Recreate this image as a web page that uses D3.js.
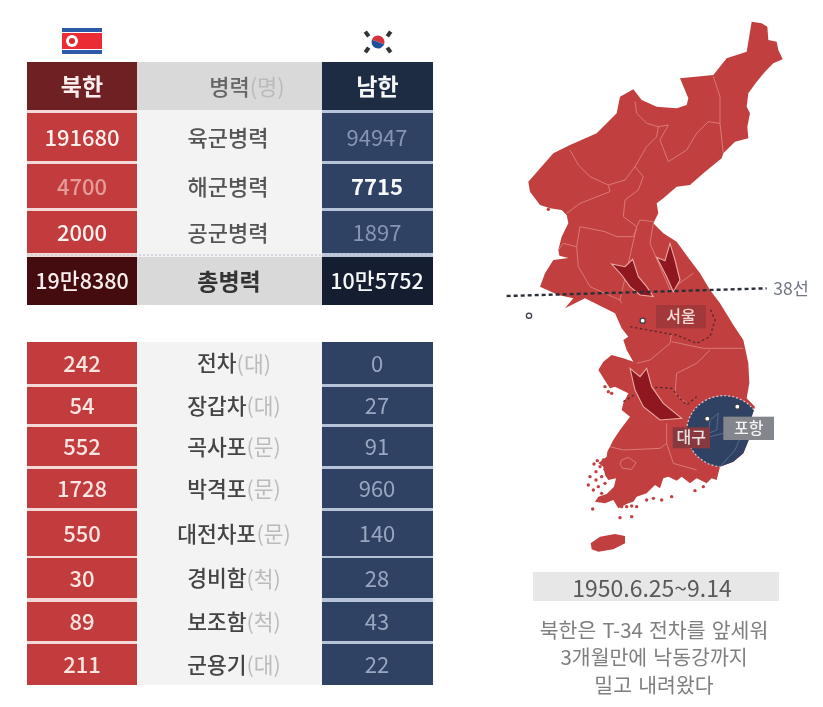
<!DOCTYPE html>
<html>
<head>
<meta charset="utf-8">
<script src="https://d3js.org/d3.v7.min.js"></script>
<style>
  html, body { margin: 0; background: #fff; }
  svg { display: block; font-family: "Noto Sans CJK KR", "Noto Sans", sans-serif; filter: blur(0.45px); }
</style>
</head>
<body>
<script>
// Troops table
var troopNames = ["육군병력", "해군병력", "공군병력"];
var troopNorth = ["191680", "4700", "2000"];
var troopSouth = ["94947", "7715", "1897"];
var totalName = "총병력";
var totalNorth = "19만8380";
var totalSouth = "10만5752";

// Equipment table
var gearNames = ["전차", "장갑차", "곡사포", "박격포", "대전차포", "경비함", "보조함", "군용기"];
var gearUnits = ["(대)", "(대)", "(문)", "(문)", "(문)", "(척)", "(척)", "(대)"];
var gearNorth = [242, 54, 552, 1728, 550, 30, 89, 211];
var gearSouth = [0, 27, 91, 960, 140, 28, 43, 22];

// Map, in map units
var mainland = [[785,35],[815,40],[832,50],[835,90],[860,95],[865,120],[878,148],[850,160],[825,185],[800,215],[775,250],[770,290],[780,310],[772,350],[775,385],[735,395],[700,430],[695,445],[640,490],[600,525],[560,530],[520,565],[500,580],[505,610],[490,640],[520,670],[560,695],[600,750],[630,790],[660,840],[690,880],[730,945],[760,990],[775,1060],[778,1120],[770,1165],[795,1190],[785,1220],[780,1280],[760,1330],[730,1355],[690,1370],[680,1410],[665,1405],[650,1420],[620,1405],[600,1420],[575,1400],[560,1412],[535,1400],[520,1405],[510,1435],[495,1425],[470,1450],[440,1460],[430,1475],[415,1480],[385,1495],[370,1470],[345,1480],[315,1475],[325,1460],[350,1452],[372,1430],[378,1405],[355,1410],[345,1395],[340,1370],[325,1360],[350,1340],[352,1325],[370,1290],[390,1260],[420,1220],[395,1200],[400,1180],[415,1150],[375,1130],[360,1135],[350,1120],[325,1080],[340,1055],[365,1035],[400,1045],[430,1055],[410,1020],[400,990],[415,980],[395,955],[375,910],[345,895],[285,865],[255,880],[225,895],[250,865],[205,855],[150,830],[165,790],[190,750],[235,744],[208,737],[205,720],[215,680],[235,640],[230,615],[215,600],[180,595],[150,585],[120,545],[115,515],[190,430],[240,405],[320,370],[380,310],[390,260],[430,238],[455,270],[500,290],[560,295],[590,285],[595,265],[570,205],[670,195],[710,145],[770,125]];
var jeju = [[302,1600],[330,1580],[375,1572],[405,1578],[405,1600],[370,1618],[325,1625],[305,1618]];
var islands = [[175,598],[312,1362],[322,1352],[330,1370],[340,1350],[345,1378],[318,1385],[300,1400],[318,1410],[335,1400],[295,1425],[310,1440],[325,1430],[345,1420],[362,1400],[335,1450],[308,1497],[390,1523],[425,1520],[395,1490],[410,1490],[425,1488],[440,1490],[470,1470],[490,1465],[515,1470],[545,1460],[615,1442],[640,1430],[670,1375],[345,1130],[355,1145],[365,1150]];
var borders = [
  [[435,275],[440,310],[470,340],[505,350],[500,380],[470,410],[435,470],[405,510],[355,525],[300,500],[265,465],[240,420]],
  [[355,525],[360,545],[270,580],[230,610]],
  [[435,470],[460,500],[445,540],[405,570],[400,620],[440,650],[450,630],[490,635]],
  [[670,200],[690,260],[690,340],[655,335],[620,370],[590,420],[535,455],[510,390],[535,345],[505,350]],
  [[690,340],[700,430]],
  [[440,655],[430,680],[380,680],[345,665],[270,650],[260,710],[220,700],[205,720]],
  [[260,710],[265,770],[300,830],[390,870],[395,880]],
  [[390,870],[440,650]],
  [[490,640],[480,700],[540,840],[610,790]],
  [[545,970],[540,1000],[480,1050],[440,1060]],
  [[545,995],[640,1015],[760,1015]],
  [[660,1020],[620,1060],[560,1090],[555,1150],[590,1180]],
  [[530,1240],[530,1300],[550,1360],[620,1380]],
  [[360,1310],[400,1320],[510,1315],[530,1300]],
  [[395,1350],[415,1342],[438,1358],[425,1378],[398,1375],[390,1362],[395,1350]]
];
var arrows = [
  [[365,762],[405,770],[428,748],[445,800],[470,830],[490,860],[450,855],[420,830],[395,795]],
  [[500,742],[525,752],[540,700],[555,750],[570,810],[550,845],[530,800]],
  [[420,1075],[450,1100],[470,1075],[485,1130],[520,1180],[575,1225],[510,1230],[460,1190],[435,1140]]
];
var frontLines = [
  [[420,950],[500,965],[560,975],[620,1000],[660,980],[675,930],[660,895]],
  [[400,1175],[440,1150],[500,1132],[545,1135],[570,1165],[590,1185],[620,1160]]
];
var line38 = [[50,858],[830,835]];
var cities = [[458,932],[652,1226],[742,1190],[117,917]];
var cityLabels = [
  { name: "서울", box: [498,885,648,955], fill: "#a3383a", color: "#f6dcd6" },
  { name: "대구", box: [548,1252,660,1315], fill: "#87393f", color: "#e8e2e2" },
  { name: "포항", box: [700,1220,852,1290], fill: "#83868d", color: "#f2f2f2" }
];
var noteLines = ["북한은 T-34 전차를 앞세워", "3개월만에 낙동강까지", "밀고 내려왔다"];
var dateText = "1950.6.25~9.14";

var w = 823;
var h = 707;

// Row layout of both tables
var troopTops = [113, 164, 211];
var troopHeights = [48, 44, 42];
var gearTops = [342, 387, 427, 469, 511, 558, 602, 644];
var gearHeights = [42, 37, 39, 39, 45, 40, 39, 41];

var col = {
  north: { x: 27, w: 110 },
  mid: { x: 137, w: 185 },
  south: { x: 322, w: 111 }
};
var midText = 229;

var svg = d3.select("body").append("svg")
    .attr("width", w)
    .attr("height", h);

// Draws one table cell
function cell(c, y, height, fill) {
  svg.append("rect")
      .attr("x", c.x)
      .attr("y", y)
      .attr("width", c.w)
      .attr("height", height)
      .attr("fill", fill);
}

function label(x, y, text, size, color, weight) {
  return svg.append("text")
      .attr("x", x)
      .attr("y", y - 1.5)
      .attr("text-anchor", "middle")
      .attr("dominant-baseline", "central")
      .attr("font-size", size)
      .attr("font-weight", weight || 500)
      .attr("fill", color)
      .text(text);
}

// Pale column backgrounds show through as row dividers
cell(col.north, 110, 147, "#f3d9d7");
cell(col.mid, 110, 147, "#f3f3f3");
cell(col.south, 110, 147, "#b7c3d8");
cell(col.north, 342, 343, "#f3d9d7");
cell(col.mid, 342, 343, "#f3f3f3");
cell(col.south, 342, 343, "#b7c3d8");

// Header row
cell(col.north, 62, 48, "#6f2022");
cell(col.mid, 62, 48, "#d9d9d9");
cell(col.south, 62, 48, "#1d2c43");
label(col.north.x + col.north.w / 2, 86, "북한", 23, "#fbeeee", 700);
label(col.south.x + col.south.w / 2, 86, "남한", 23, "#f4f6f8", 700);
var head = label(247, 86, "병력", 22, "#666");
head.append("tspan").attr("fill", "#bbb").attr("font-weight", 400).text("(명)");

// Troop rows, dim values are the ones the source faded out
var troopY = d3.scaleOrdinal().domain(troopNames).range(troopTops);
var troopH = d3.scaleOrdinal().domain(troopNames).range(troopHeights);
var northDim = ["4700"];
var southDim = ["94947", "1897"];

troopNames.forEach(function(name, i) {
  var y = troopY(name), rh = troopH(name), cy = y + rh / 2;
  cell(col.north, y, rh, "#c23c3e");
  cell(col.south, y, rh, "#2f4264");
  label(col.north.x + 55, cy, troopNorth[i], 22, northDim.indexOf(troopNorth[i]) >= 0 ? "#e39c97" : "#fdf0ee", 500);
  label(midText - 1, cy, name, 22, "#555");
  var dim = southDim.indexOf(troopSouth[i]) >= 0;
  label(col.south.x + 55, cy, troopSouth[i], 22, dim ? "#8595b2" : "#f6f8fa", dim ? 400 : 700);
});

// Total row
cell(col.north, 257, 48, "#440c0f");
cell(col.mid, 257, 48, "#d9d9d9");
cell(col.south, 257, 48, "#141e30");
label(col.north.x + 55, 281, totalNorth, 21.5, "#f9eded", 500);
label(midText, 281, totalName, 23, "#333", 700);
label(col.south.x + 55, 281, totalSouth, 21.5, "#f4f6f8", 500);
svg.append("line")
    .attr("x1", 27).attr("x2", 433).attr("y1", 255).attr("y2", 255)
    .attr("stroke", "#c9cdd6")
    .attr("stroke-width", 1.5)
    .attr("stroke-dasharray", "2 2");

// Equipment rows
var gearY = d3.scaleOrdinal().domain(gearNames).range(gearTops);
var gearH = d3.scaleOrdinal().domain(gearNames).range(gearHeights);

gearNames.forEach(function(name, i) {
  var y = gearY(name), rh = gearH(name), cy = y + rh / 2;
  cell(col.north, y, rh, "#c23c3e");
  cell(col.south, y, rh, "#2f4264");
  label(col.north.x + 55, cy, gearNorth[i], 22, "#fbe6e2", 500);
  var t = label(midText + 5, cy, name, 21.5, "#444");
  t.append("tspan").attr("fill", "#bbb").attr("font-weight", 400).text(gearUnits[i]);
  label(col.south.x + 55, cy, gearSouth[i], 22, "#98a6c0", 400);
});

// North Korean flag
var nk = svg.append("g");
nk.append("rect").attr("x", 62).attr("y", 28).attr("width", 40).attr("height", 26).attr("fill", "#2c5aa8");
nk.append("rect").attr("x", 62).attr("y", 32).attr("width", 40).attr("height", 18).attr("fill", "#fff");
nk.append("rect").attr("x", 62).attr("y", 33).attr("width", 40).attr("height", 16).attr("fill", "#ec2c34");
nk.append("circle").attr("cx", 72).attr("cy", 41).attr("r", 6).attr("fill", "#fff");
nk.append("circle").attr("cx", 72).attr("cy", 41).attr("r", 3).attr("fill", "#d82a30");

// South Korean flag
var sk = svg.append("g");
sk.append("rect").attr("x", 362).attr("y", 29).attr("width", 35).attr("height", 26).attr("fill", "#fff");
var taeguk = d3.arc().innerRadius(0).outerRadius(6.5);
sk.append("path").attr("transform", "translate(378,42) rotate(20)")
    .attr("d", taeguk({ startAngle: -Math.PI / 2, endAngle: Math.PI / 2 })).attr("fill", "#d3333d");
sk.append("path").attr("transform", "translate(378,42) rotate(20)")
    .attr("d", taeguk({ startAngle: Math.PI / 2, endAngle: 3 * Math.PI / 2 })).attr("fill", "#1f4f9c");
[[367,34,-35],[389,34,35],[367,50,35],[389,50,-35]].forEach(function(b) {
  sk.append("rect")
      .attr("x", b[0] - 3).attr("y", b[1] - 2).attr("width", 6).attr("height", 4)
      .attr("transform", "rotate(" + (b[2] + 90) + "," + b[0] + "," + b[1] + ")")
      .attr("fill", "#333");
});

// Map
var mapX = d3.scaleLinear().domain([0, 990]).range([490, 820]);
var mapY = d3.scaleLinear().domain([0, 1680]).range([10, 570]);
var shapePath = d3.line().x(function(d) { return mapX(d[0]); }).y(function(d) { return mapY(d[1]); }).curve(d3.curveLinearClosed);
var linePath = d3.line().x(function(d) { return mapX(d[0]); }).y(function(d) { return mapY(d[1]); });

svg.append("clipPath").attr("id", "land")
  .append("path").attr("d", shapePath(mainland));

svg.append("path").attr("d", shapePath(mainland)).attr("fill", "#c23f40");
svg.append("path").attr("d", shapePath(jeju)).attr("fill", "#c23f40");
svg.selectAll(".island")
  .data(islands)
  .enter().append("circle")
    .attr("class", "island")
    .attr("cx", function(d) { return mapX(d[0]); })
    .attr("cy", function(d) { return mapY(d[1]); })
    .attr("r", 1.7)
    .attr("fill", "#c23f40");

svg.selectAll(".border")
  .data(borders)
  .enter().append("path")
    .attr("class", "border")
    .attr("d", linePath)
    .attr("fill", "none")
    .attr("stroke", "#dc7f79")
    .attr("stroke-width", 0.9);

// Pusan perimeter
var perimeter = svg.append("g").attr("clip-path", "url(#land)");
perimeter.append("ellipse")
    .attr("cx", mapX(702)).attr("cy", mapY(1264))
    .attr("rx", mapX(112) - mapX(0)).attr("ry", mapX(107) - mapX(0))
    .attr("fill", "#2f4264")
    .attr("stroke", "#c9d0de")
    .attr("stroke-width", 1.2)
    .attr("stroke-dasharray", "2 2");
perimeter.append("path")
    .attr("d", linePath([[620,1290],[700,1270],[740,1260],[780,1262]]))
    .attr("fill", "none").attr("stroke", "#566a8c");
perimeter.append("path")
    .attr("d", linePath([[660,1230],[685,1210],[680,1260],[655,1270],[660,1230]]))
    .attr("fill", "none").attr("stroke", "#566a8c");
perimeter.append("path")
    .attr("d", linePath([[690,1370],[735,1320],[750,1285]]))
    .attr("fill", "none").attr("stroke", "#566a8c");

// Front lines
svg.selectAll(".front")
  .data(frontLines)
  .enter().append("path")
    .attr("class", "front")
    .attr("d", linePath)
    .attr("fill", "none")
    .attr("stroke", "#5c2a2c")
    .attr("stroke-width", 1.4)
    .attr("stroke-dasharray", "2.5 2.5");

// Arrows
svg.selectAll(".arrow")
  .data(arrows)
  .enter().append("path")
    .attr("class", "arrow")
    .attr("d", shapePath)
    .attr("fill", "#8f1820")
    .attr("stroke", "#e9a9a0")
    .attr("stroke-width", 1.1);

// 38th parallel
svg.append("path")
    .attr("d", linePath(line38))
    .attr("stroke", "#2b3038")
    .attr("stroke-width", 2.4)
    .attr("stroke-dasharray", "4 3");
label(791, 289, "38선", 17.5, "#6f7682", 400);

// City labels
cityLabels.forEach(function(c) {
  var x0 = mapX(c.box[0]), y0 = mapY(c.box[1]), x1 = mapX(c.box[2]), y1 = mapY(c.box[3]);
  svg.append("rect")
      .attr("x", x0).attr("y", y0)
      .attr("width", x1 - x0).attr("height", y1 - y0)
      .attr("fill", c.fill);
  label((x0 + x1) / 2, (y0 + y1) / 2, c.name, 16, c.color, 500);
});

svg.selectAll(".city")
  .data(cities)
  .enter().append("circle")
    .attr("class", "city")
    .attr("cx", function(d) { return mapX(d[0]); })
    .attr("cy", function(d) { return mapY(d[1]); })
    .attr("r", 2.6)
    .attr("fill", "#fff")
    .attr("stroke", "#3a3f48")
    .attr("stroke-width", 1.3);

// Caption
svg.append("rect").attr("x", 533).attr("y", 572).attr("width", 246).attr("height", 29).attr("fill", "#e7e7e7");
label(652, 588, dateText, 23, "#595959", 400);
noteLines.forEach(function(line, i) {
  label(654, 630 + i * 27.5, line, 20.5, "#7f7f7f", 400).attr("word-spacing", 1.5);
});
</script>
</body>
</html>
